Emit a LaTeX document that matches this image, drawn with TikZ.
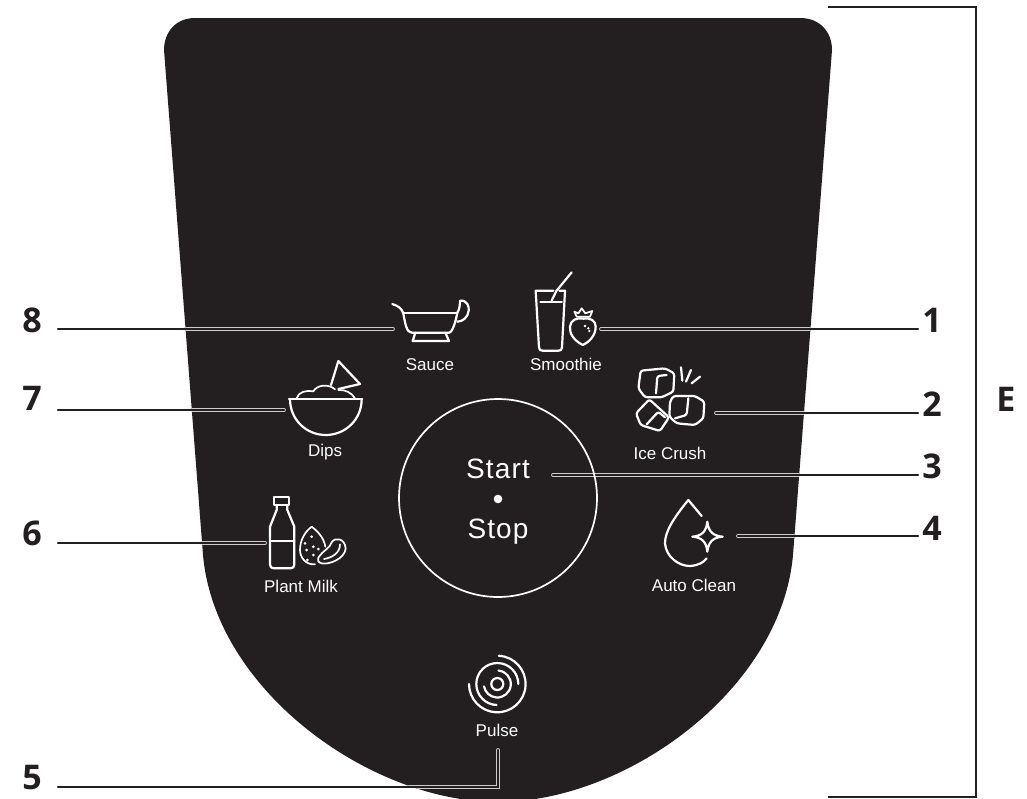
\documentclass[tikz,border=0pt]{standalone}
\usepackage{fontspec}
\setmainfont{Liberation Sans}
\newfontfamily\digitfont{Open Sans}
\newfontfamily\bigfont[LetterSpace=4]{Liberation Sans}
\definecolor{panel}{HTML}{231F20}
\tikzset{
  icon/.style={draw=white,line width=2.2pt,line join=round,line cap=round},
  iconthin/.style={icon,line width=1.7pt},
  lab/.style={text=white,anchor=base,inner sep=0pt,font=\fontsize{17}{20}\selectfont},
  biglab/.style={text=white,anchor=base,inner sep=0pt,font=\bigfont\fontsize{28}{31}\selectfont},
  num/.style={text=panel,anchor=base,inner sep=0pt,font=\digitfont\bfseries\fontsize{34}{37}\selectfont},
  leaderhalo/.style={draw=white!80!black,line width=3.8pt,line cap=round,line join=miter},
  leadercore/.style={draw=panel,line width=2.2pt,line cap=round,line join=miter},
  zoomed/.style={x=0.33333pt,y=-0.33333pt}
}
\begin{document}
\begin{tikzpicture}[x=1pt,y=-1pt]
\useasboundingbox (0,0) rectangle (1027,798);
\fill[white] (0,0) rectangle (1027,798);
% panel
\fill[panel] (195,18) -- (800,18) .. controls (820,18) and (832,32) .. (832,50)
  -- (793,555) .. controls (781,690) and (626,802) .. (498,802)
  .. controls (370,802) and (215,690) .. (203,555)
  -- (164,50) .. controls (164,32) and (176,18) .. (195,18) -- cycle;
% bracket
\coordinate (bt) at (828,7); \coordinate (btr) at (976,7);
\coordinate (bb) at (828,797); \coordinate (bbr) at (976,797);
\draw[panel,line width=2.6pt,line join=miter] (bt) -- (btr) -- (bbr) -- (bb);
% leaders
\coordinate (l8a) at (58,329); \coordinate (l8b) at (393,329);
\coordinate (l1a) at (601,329); \coordinate (l1b) at (918,329);
\coordinate (l2a) at (716,413); \coordinate (l2b) at (918,413);
\coordinate (l3a) at (553,475); \coordinate (l3b) at (918,475);
\coordinate (l4a) at (738,536); \coordinate (l4b) at (918,536);
\coordinate (l5a) at (58,787); \coordinate (l5c) at (498,787); \coordinate (l5b) at (498,750);
\coordinate (l6a) at (58,543); \coordinate (l6b) at (265,543);
\coordinate (l7a) at (58,410); \coordinate (l7b) at (284,410);
\begin{scope}
\clip (195,18) -- (800,18) .. controls (820,18) and (832,32) .. (832,50)
  -- (793,555) .. controls (781,690) and (626,802) .. (498,802)
  .. controls (370,802) and (215,690) .. (203,555)
  -- (164,50) .. controls (164,32) and (176,18) .. (195,18) -- cycle;
\foreach \p in {(l8a) -- (l8b),(l1a) -- (l1b),(l2a) -- (l2b),(l3a) -- (l3b),(l4a) -- (l4b),(l6a) -- (l6b),(l7a) -- (l7b),(l5a) -- (l5c) -- (l5b)}{
  \draw[leaderhalo] \p;
}
\end{scope}
\foreach \p in {(l8a) -- (l8b),(l1a) -- (l1b),(l2a) -- (l2b),(l3a) -- (l3b),(l4a) -- (l4b),(l6a) -- (l6b),(l7a) -- (l7b),(l5a) -- (l5c) -- (l5b)}{
  \draw[leadercore] \p;
}
% start/stop
\node[circle,draw=white,line width=1.7pt,minimum size=198pt,inner sep=0pt] (startstop) at (498,498) {};
\node[biglab] (start) at (498,478) {Start};
\node[biglab] (stop) at (498,538) {Stop};
\fill[white] (498,499) circle[radius=4.3pt];
% labels
\node[lab] (sauce) at (430,370) {Sauce};
\node[lab] (smoothie) at (566,370) {Smoothie};
\node[lab] (dips) at (325,456) {Dips};
\node[lab] (ice) at (670,459) {Ice Crush};
\node[lab] (milk) at (301,592) {Plant Milk};
\node[lab] (clean) at (694,591) {Auto Clean};
\node[lab] (pulse) at (497,736) {Pulse};
% numbers
\node[num] (n8) at (32,332) {8};
\node[num] (n1) at (932,332) {1};
\node[num] (n2) at (932,416) {2};
\node[num] (n3) at (932,478) {3};
\node[num] (n4) at (932,540) {4};
\node[num] (n5) at (32,789) {5};
\node[num] (n6) at (32,545) {6};
\node[num] (n7) at (32,410) {7};
\node[num] (nE) at (1006,411) {E};
% sauce + smoothie
\begin{scope}[shift={(380,260)},zoomed]
 \draw[icon] (37,132) .. controls (55,138) and (65,145) .. (70,160) .. controls (75,190) and (80,218) .. (95,218) -- (207,218) .. controls (218,218) and (228,180) .. (232,158);
 \draw[icon] (70,158) -- (232,158);
 \draw[icon] (232,158) .. controls (238,150) and (240,135) .. (240,122) .. controls (262,120) and (268,140) .. (266,152) .. controls (264,172) and (248,185) .. (232,185);
 \draw[icon] (106,218) -- (98,243) -- (207,243) -- (196,218);
 \draw[icon] (520,92) -- (467,92) -- (477,262) .. controls (478,270) and (480,272) .. (488,272) -- (535,272) .. controls (543,272) and (545,270) .. (546,262) -- (555,92) -- (538,92);
 \draw[iconthin] (481,125) -- (546,125);
 \draw[icon] (575,37) -- (529,93) -- (515,122);
 \draw[icon] (608,255) .. controls (580,240) and (568,220) .. (570,200) .. controls (572,180) and (590,172) .. (610,176) .. controls (630,172) and (648,182) .. (647,200) .. controls (647,225) and (630,245) .. (608,255) -- cycle;
 \draw[iconthin] (583,155) -- (595,160) -- (605,145) -- (616,160) -- (637,153) -- (630,170) -- (590,170) -- cycle;
 \fill[white] (615,198) circle[radius=1.3pt] (625,205) circle[radius=1.3pt] (628,213) circle[radius=1.3pt];
\end{scope}
% dips
\begin{scope}[shift={(270,350)},zoomed]
 \draw[icon] (57,147) -- (277,147);
 \draw[icon] (60,147) .. controls (60,210) and (110,255) .. (167,255) .. controls (225,255) and (275,210) .. (275,147);
 \draw[iconthin] (80,145) .. controls (85,125) and (110,120) .. (130,124) .. controls (140,105) and (175,100) .. (195,118);
 \draw[iconthin] (205,120) .. controls (225,118) and (245,128) .. (255,145);
 \draw[icon] (183,105) -- (205,33) -- (270,102) -- (205,117);
\end{scope}
% ice
\begin{scope}[shift={(620,360)},zoomed,rounded corners=2.5pt]
 \draw[icon] (62,32) -- (135,25) -- (163,40) -- (160,95) -- (125,112) -- (75,112) -- (55,85) -- cycle;
 \draw[icon] (108,100) -- (112,48) -- (140,45);
 \draw[icon] (88,118) -- (147,172) -- (120,213) -- (62,195) -- (48,160) -- cycle;
 \draw[icon] (80,193) -- (115,155) -- (135,172);
 \draw[icon] (150,125) -- (160,108) -- (225,108) -- (253,125) -- (250,175) -- (225,195) -- (170,190) -- (148,170) -- cycle;
 \draw[icon] (205,115) -- (200,165) -- (165,175);
 \draw[icon] (183,22) -- (187,62);
 \draw[icon] (213,30) -- (198,65);
 \draw[icon] (240,50) -- (215,70);
\end{scope}
% bottle
\begin{scope}[shift={(250,485)},zoomed]
 \draw[icon] (72,35) rectangle (118,60);
 \draw[icon] (80,60) -- (80,75) -- (60,125) -- (60,238) .. controls (60,246) and (64,250) .. (72,250) -- (121,250) .. controls (129,250) and (133,246) .. (133,238) -- (133,125) -- (112,75) -- (112,60);
 \draw[icon] (60,168) -- (133,168);
 \draw[iconthin] (195,238) .. controls (165,240) and (150,215) .. (150,195) .. controls (150,165) and (165,140) .. (185,125) .. controls (205,140) and (222,160) .. (226,185);
 \fill[white] (165,175) circle[radius=1.5pt] (185,155) circle[radius=1.5pt] (190,185) circle[radius=1.5pt] (205,192) circle[radius=1.5pt] (170,195) circle[radius=1.5pt] (190,210) circle[radius=1.5pt] (172,225) circle[radius=1.5pt];
 \draw[iconthin,fill=panel] (205,218) .. controls (220,195) and (240,190) .. (245,172) .. controls (255,155) and (285,160) .. (287,190) .. controls (285,222) and (235,240) .. (215,235) .. controls (205,232) and (200,225) .. (205,218) -- cycle;
 \draw[iconthin] (222,222) .. controls (245,218) and (270,205) .. (270,178);
\end{scope}
% drop
\begin{scope}[shift={(640,490)},zoomed]
 \draw[icon] (185,78) -- (145,30) .. controls (100,85) and (75,125) .. (75,160) .. controls (78,200) and (115,228) .. (150,228) .. controls (175,226) and (190,218) .. (200,205);
 \draw[icon] (202,95) .. controls (205,125) and (220,138) .. (248,140) .. controls (220,142) and (205,155) .. (202,185) .. controls (199,155) and (185,142) .. (157,140) .. controls (185,138) and (199,125) .. (202,95) -- cycle;
\end{scope}
% pulse
\begin{scope}[shift={(497.3,684)}]
 \draw[icon] (87:28.3pt) arc[start angle=87,end angle=-180,radius=28.3pt];
 \draw[icon] (0:21pt) arc[start angle=0,end angle=268,radius=21pt];
 \draw[icon] (85:13.5pt) arc[start angle=85,end angle=-170,radius=13.5pt];
 \draw[icon] (0,0) circle[radius=6pt];
\end{scope}
\end{tikzpicture}
\end{document}
